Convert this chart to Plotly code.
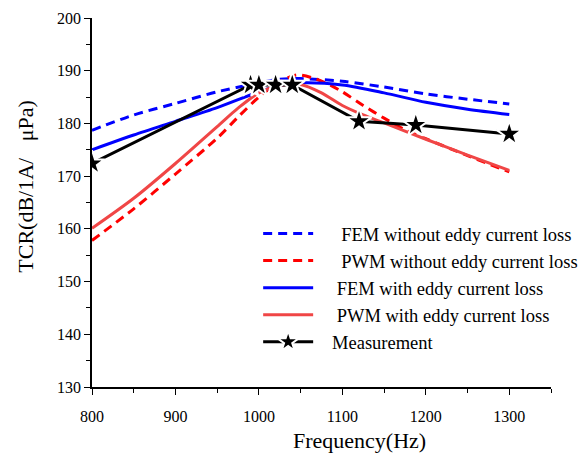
import plotly.graph_objects as go

# Frequency grids (Hz) and TCR values (dB re 1 A / uPa)
freq_fem_without = [800, 850, 900, 950, 1000, 1025, 1050, 1100, 1150, 1200, 1250, 1300]
tcr_fem_without = [178.7, 181.6, 183.8, 186.0, 187.7, 188.4, 188.5, 188.0, 186.9, 185.6, 184.6, 183.7]

freq_pwm_without = [800, 850, 900, 950, 975, 1000, 1025, 1045, 1065, 1085, 1100, 1125, 1150, 1175, 1200, 1250, 1300]
tcr_pwm_without = [157.8, 163.8, 170.4, 177.2, 181.2, 185.0, 187.9, 189.2, 188.6, 187.3, 186.0, 183.4, 181.0, 178.8, 177.1, 173.9, 170.8]

freq_fem_with = [800, 850, 900, 950, 1000, 1025, 1050, 1100, 1150, 1200, 1250, 1300]
tcr_fem_with = [175.0, 177.8, 180.4, 183.0, 186.0, 187.2, 187.7, 187.3, 185.8, 184.0, 182.7, 181.7]

freq_pwm_with = [800, 850, 900, 950, 975, 1000, 1025, 1050, 1075, 1100, 1125, 1150, 1200, 1250, 1300]
tcr_pwm_with = [160.1, 165.8, 172.4, 179.4, 182.9, 185.8, 187.2, 187.4, 185.8, 183.4, 181.6, 180.1, 177.0, 174.0, 171.1]

freq_meas = [800, 990, 1000, 1020, 1040, 1120, 1188, 1300]
tcr_meas = [172.4, 187.3, 187.3, 187.3, 187.3, 180.4, 179.7, 178.0]

NB = "\u00a0"
series_names = [
    NB * 5 + "FEM without eddy current loss",
    NB * 5 + "PWM without eddy current loss",
    NB * 4 + "FEM with eddy current loss",
    NB * 4 + "PWM with eddy current loss",
    NB * 3 + "Measurement",
]

x_ticks = [800, 900, 1000, 1100, 1200, 1300]
y_ticks = [130, 140, 150, 160, 170, 180, 190, 200]

SERIF = "Liberation Serif, Times New Roman, serif"

fig = go.Figure()

fig.add_trace(go.Scatter(
    x=freq_fem_without, y=tcr_fem_without, name=series_names[0], mode="lines",
    line=dict(color="#0000ff", width=3, dash="9px,6px", shape="spline", smoothing=0.8),
))
fig.add_trace(go.Scatter(
    x=freq_pwm_without, y=tcr_pwm_without, name=series_names[1], mode="lines",
    line=dict(color="#ff0000", width=3, dash="9px,6px", shape="spline", smoothing=0.8),
))
fig.add_trace(go.Scatter(
    x=freq_fem_with, y=tcr_fem_with, name=series_names[2], mode="lines",
    line=dict(color="#0000ff", width=3, shape="spline", smoothing=0.8),
))
fig.add_trace(go.Scatter(
    x=freq_pwm_with, y=tcr_pwm_with, name=series_names[3], mode="lines",
    line=dict(color="#f04646", width=3, shape="spline", smoothing=0.8),
))
fig.add_trace(go.Scatter(
    x=freq_meas, y=tcr_meas, name=series_names[4], mode="lines+markers",
    line=dict(color="#000000", width=3),
    marker=dict(symbol="star", size=19, color="#000000",
                line=dict(color="#ffffff", width=2)),
))

axis_common = dict(
    showline=True, linecolor="#000000", linewidth=1.7,
    ticks="outside", ticklen=6, tickwidth=1.3, tickcolor="#000000",
    showgrid=False, zeroline=False, mirror=False,
    tickfont=dict(family=SERIF, size=16, color="#000000"),
)

fig.update_layout(
    width=585, height=454,
    margin=dict(l=92, r=34, t=18, b=67, autoexpand=False),
    paper_bgcolor="#ffffff", plot_bgcolor="#ffffff",
    font=dict(family=SERIF, color="#000000"),
    xaxis=dict(
        range=[800, 1350], tickvals=x_ticks, ticklabelstandoff=8,
        minor=dict(dtick=50, tick0=800, ticks="outside", ticklen=4,
                   tickwidth=1.3, tickcolor="#000000", showgrid=False),
        **axis_common,
    ),
    yaxis=dict(
        range=[130, 200], tickvals=y_ticks,
        minor=dict(dtick=5, tick0=130, ticks="outside", ticklen=4,
                   tickwidth=1.3, tickcolor="#000000", showgrid=False),
        **axis_common,
    ),
    legend=dict(
        x=0.362, y=0.466, xanchor="left", yanchor="top",
        bgcolor="rgba(0,0,0,0)", borderwidth=0,
        font=dict(family=SERIF, size=18.5, color="#000000"),
        itemwidth=50, tracegroupgap=0,
    ),
    showlegend=True,
    annotations=[
        dict(text="Frequency(Hz)", xref="paper", yref="paper",
             x=(359 - 92) / 459, y=-(440.5 - 386.7) / 368.4,
             xanchor="center", yanchor="middle", showarrow=False,
             borderpad=0,
             font=dict(family=SERIF, size=22, color="#000000")),
        dict(text="TCR(dB/1A/\u00a0\u00a0\u00a0\u03bcPa)", xref="paper", yref="paper",
             x=-(92 - 26) / 459, y=(386.7 - 186.7) / 368.4,
             xanchor="center", yanchor="middle", showarrow=False, textangle=-90,
             font=dict(family=SERIF, size=22, color="#000000")),
    ],
)

fig.write_html("out.html")
